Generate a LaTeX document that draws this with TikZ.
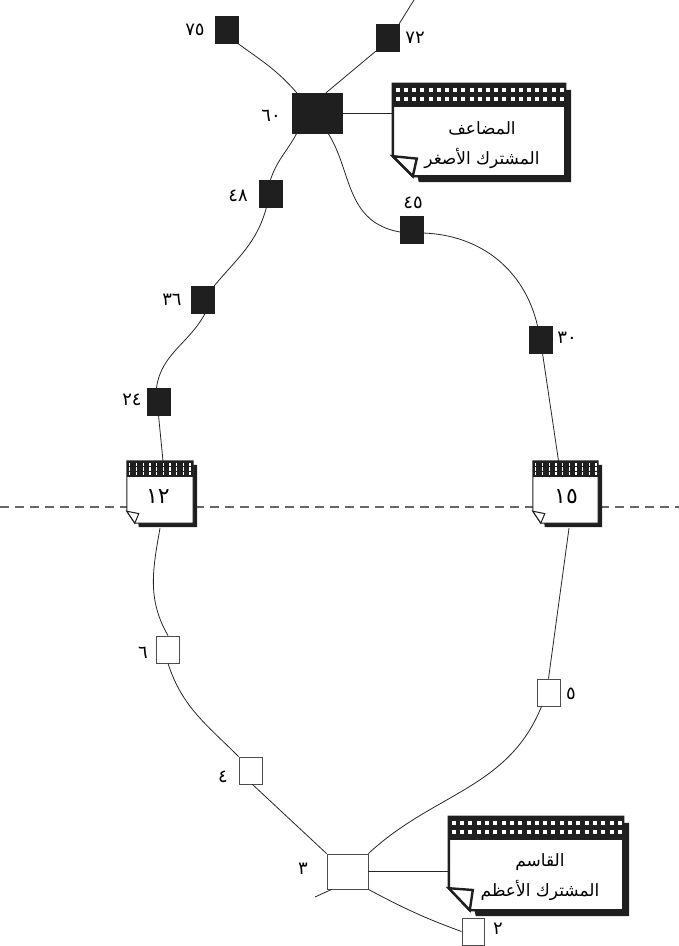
\documentclass[tikz,border=0pt]{standalone}
\usepackage{fontspec}
\TeXXeTstate=1
\newfontfamily\arabicfont[Script=Arabic]{DejaVu Sans}
\usetikzlibrary{calc}
\pgfdeclarelayer{bgline}
\pgfdeclarelayer{bgnote}
\pgfsetlayers{bgline,bgnote,main}
\tikzset{
  fsq/.style={fill=black!88, draw=black!88, minimum width=23pt, minimum height=27pt, inner sep=0pt},
  osq/.style={fill=white, draw=black!70, line width=0.9pt, minimum width=23pt, minimum height=27pt, inner sep=0pt},
  num/.style={font=\arabicfont\fontsize{18}{20}\selectfont, inner sep=0pt},
  bignum/.style={font=\arabicfont\fontsize{22}{24}\selectfont, inner sep=0pt},
  notetext/.style={font=\arabicfont\fontsize{17}{30}\selectfont, inner sep=0pt, align=center},
  notebody/.style={inner sep=0pt},
  link/.style={line width=0.8pt, black!85},
  sep/.style={line width=1.1pt, black!60, dash pattern=on 9pt off 6pt},
}
% note decoration: name, line width, shadow, fold width, fold height, flap
\newcommand\notedeco[6]{%
  \fill[black!88] ($(#1.north west)+(#3,#3)$) -- ($(#1.north east)+(#3,#3)$) -- ($(#1.south east)+(#3,#3)$) -- ($(#1.south west)+(#4+#3,#3)$) -- cycle;
  \filldraw[fill=white, draw=black!88, line width=#2] (#1.north west) -- (#1.north east) -- (#1.south east) -- ($(#1.south west)+(#4,0)$) -- ($(#1.south west)+(0,-#5)$) -- cycle;
  \filldraw[fill=white, draw=black!88, line width=#2, line join=miter] ($(#1.south west)+(0,-#5)$) -- ($(#1.south west)+(#4+#6,-#5+#6*0.6)$) -- ($(#1.south west)+(#4,0)$) -- cycle;
}
% band: name, band height, last col index, col step, rows, dot w, dot h, x offset
\newcommand\noteband[8]{%
  \fill[black!88] (#1.north west) rectangle ($(#1.north east)+(0,#2)$);
  \foreach \i in {0,...,#3} \foreach \j in {#5}
    \fill[white] ($(#1.north west)+(#8+\i*#4,\j)$) rectangle ++(#6,#7);
}
\begin{document}
\begin{tikzpicture}[x=1pt,y=-1pt]
\useasboundingbox (0,0) rectangle (679,946);
% notes (bodies)
\node[notebody, minimum width=172pt, minimum height=92pt] (note1) at (479,130) {};
\node[notebody, minimum width=174pt, minimum height=93pt] (note2) at (536,863.5) {};
\node[notebody, minimum width=66pt, minimum height=62pt] (note12) at (160,492) {};
\node[notebody, minimum width=65pt, minimum height=62pt] (note15) at (565.5,492) {};
\begin{pgfonlayer}{bgnote}
  \notedeco{note1}{2.4pt}{6}{20}{20}{4}
  \noteband{note1}{23}{20}{8.2}{4,13}{4}{4.5}{3}
  \notedeco{note2}{2.4pt}{6}{21}{22}{3}
  \noteband{note2}{23}{20}{8.3}{4,13}{4}{4.5}{3}
  \notedeco{note12}{1pt}{4}{8}{12}{4}
  \noteband{note12}{16}{9}{6.7}{2,6.5,11}{1.3}{3.5}{2.3}
  \notedeco{note15}{1pt}{4}{8}{12}{4}
  \noteband{note15}{16}{9}{6.7}{2,6.5,11}{1.3}{3.5}{2.3}
\end{pgfonlayer}
\begin{pgfonlayer}{bgline}
  \coordinate (sepL) at (0,507);
  \coordinate (sepR) at (679,507);
  \draw[sep] (sepL) -- (sepR);
\end{pgfonlayer}
\node[notetext] (t1) at (482,145) {\beginR المضاعف\endR\\\beginR المشترك الأصغر\endR};
\node[notetext] (t2) at (540,877) {\beginR القاسم\endR\\\beginR المشترك الأعظم\endR};
\node[bignum] (t12) at (158,497) {١٢};
\node[bignum] (t15) at (566,497) {١٥};
% filled squares
\node[fsq] (n75) at (226.5,30) {};
\node[fsq] (n72) at (387.5,37.5) {};
\node[fsq, minimum width=50pt, minimum height=40pt] (n60) at (317,113) {};
\node[fsq] (n48) at (270.5,193.5) {};
\node[fsq] (n36) at (202.5,299.5) {};
\node[fsq] (n24) at (158.5,401.5) {};
\node[fsq] (n45) at (411.5,230) {};
\node[fsq] (n30) at (540.5,339.5) {};
% open squares
\node[osq] (n6) at (168,649.5) {};
\node[osq] (n4) at (250.5,770.5) {};
\node[osq] (n5) at (548.5,692.5) {};
\node[osq, minimum width=41pt, minimum height=35pt] (n3) at (347.5,871.5) {};
\node[osq, minimum width=22pt] (n2) at (473,931.5) {};
% labels
\node[num] (l75) at (195,30) {٧٥};
\node[num] (l72) at (415,38) {٧٢};
\node[num] (l60) at (271,116) {٦٠};
\node[num] (l48) at (238,196) {٤٨};
\node[num] (l36) at (172,300) {٣٦};
\node[num] (l24) at (132,400) {٢٤};
\node[num] (l45) at (413,203) {٤٥};
\node[num] (l30) at (567,338) {٣٠};
\node[num] (l6) at (143,653) {٦};
\node[num] (l4) at (223,777) {٤};
\node[num] (l5) at (571,694) {٥};
\node[num] (l3) at (303,869) {٣};
\node[num] (l2) at (498,929) {٢};
% free ends
\coordinate (topend) at (414,0);
\coordinate (stub3) at (315,897);
% connectors
\draw[link] (n75.south east) to[out=-36,in=131] ([xshift=5pt]n60.north west);
\draw[link] (n72.south west) -- ([xshift=9pt]n60.north);
\draw[link] (n72.north east) -- (topend);
\draw[link] (n60.east) -- (n60.east -| note1.west);
\draw[link] ([xshift=5pt]n60.south west) to[out=-118,in=72] (n48.north);
\draw[link] ([xshift=-4pt]n48.south) to[out=-105,in=50] (n36.north east);
\draw[link] ([xshift=-9pt]n36.south east) to[out=-118,in=82] ([xshift=-2pt]n24.north);
\draw[link] (n24.south) -- ([xshift=3pt]note12.north);
\draw[link] ([xshift=11pt]n60.south) .. controls +(24,37) and +(-55,-10) .. ([yshift=-2pt]n45.west);
\draw[link] ([yshift=-3pt]n45.east) to[out=-2,in=103] ([xshift=-3pt]n30.north);
\draw[link] ([xshift=2pt]n30.south) -- ([xshift=-7pt]note15.north);
\draw[link] ([yshift=-5pt]note12.south) to[out=-100,in=120] (n6.north);
\draw[link] (n6.south) to[out=-72,in=135] (n4.north west);
\draw[link] ([xshift=2pt]n4.south) -- (n3.north west);
\draw[link] ([xshift=3.5pt,yshift=-5pt]note15.south) -- (n5.north);
\draw[link] ([xshift=-7pt]n5.south) to[out=-112,in=43] (n3.north east);
\draw[link] (n3.east) -- (n3.east -| note2.west);
\draw[link] (n3.south east) to[out=-28,in=160] (n2.west);
\draw[link] ([xshift=5pt]n3.south west) -- (stub3);
\end{tikzpicture}
\end{document}
